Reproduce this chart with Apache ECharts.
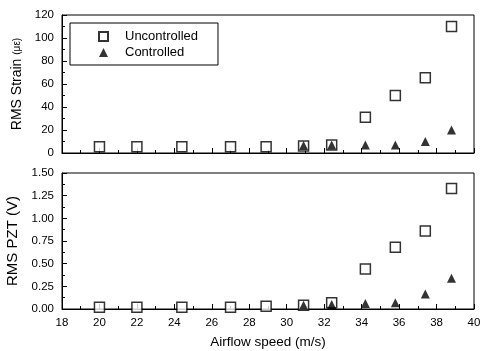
<!DOCTYPE html>
<html>
<head>
<meta charset="utf-8">
<script src="https://cdn.jsdelivr.net/npm/echarts@6/dist/echarts.min.js"></script>
<style>html,body{margin:0;padding:0;background:#fff}#c{width:481px;height:351px}</style>
</head>
<body>
<div id="c"></div>
<script>
const speedUnc = [20.0, 22.0, 24.4, 27.0, 28.9, 30.9, 32.4, 34.2, 35.8, 37.4, 38.8];
const strainUnc = [5.5, 5.5, 5.5, 5.5, 5.5, 6, 7, 31, 50, 65.5, 110];
const pztUnc = [0.02, 0.02, 0.02, 0.02, 0.03, 0.04, 0.07, 0.44, 0.68, 0.86, 1.33];
const speedCtl = [30.9, 32.4, 34.2, 35.8, 37.4, 38.8];
const strainCtl = [6.5, 7, 7, 7, 10, 20];
const pztCtl = [0.04, 0.05, 0.06, 0.07, 0.165, 0.34];
const xTicks = [18, 40, 2];
const strainTicks = [0, 120, 20];
const pztTicks = [0, 1.5, 0.25];

const zip = (a, b) => a.map((v, i) => [v, b[i]]);
const font = 'Liberation Sans, Arial, sans-serif';
const axisCommon = {
  axisLine: {show: true, onZero: false, lineStyle: {color: '#000', width: 1}},
  axisTick: {show: true, inside: true, length: 5, lineStyle: {color: '#000'}},
  minorTick: {show: true, splitNumber: 2, length: 3, lineStyle: {color: '#000'}},
  splitLine: {show: false},
  axisLabel: {color: '#000', fontFamily: font, fontSize: 11.5}
};
const uncStyle = {symbol: 'rect', symbolSize: 10, itemStyle: {color: '#fff', borderColor: '#000', borderWidth: 1.5}};
const ctlStyle = {symbol: 'triangle', symbolSize: 9, itemStyle: {color: '#000'}};

const chart = echarts.init(document.getElementById('c'), null, {renderer: 'canvas'});
chart.setOption({
  animation: false,
  backgroundColor: '#fff',
  grid: [
    {left: 62, right: 7, top: 15, height: 138, show: true, borderColor: '#000', borderWidth: 1, containLabel: false, outerBoundsMode: 'none'},
    {left: 62, right: 7, top: 173, height: 136, show: true, borderColor: '#000', borderWidth: 1, containLabel: false, outerBoundsMode: 'none'}
  ],
  legend: {
    left: 70, top: 23, orient: 'vertical',
    borderColor: '#000', borderWidth: 1,
    padding: [7, 20, 6, 28], itemGap: 3, itemWidth: 9, itemHeight: 9,
    textStyle: {fontFamily: font, fontSize: 13, color: '#000', padding: [0, 0, 0, 12]},
    data: ['Uncontrolled', 'Controlled']
  },
  xAxis: [
    Object.assign({}, axisCommon, {type: 'value', gridIndex: 0, min: xTicks[0], max: xTicks[1], interval: xTicks[2],
      axisLabel: {show: false}}),
    Object.assign({}, axisCommon, {type: 'value', gridIndex: 1, min: xTicks[0], max: xTicks[1], interval: xTicks[2],
      name: 'Airflow speed (m/s)', nameLocation: 'middle', nameGap: 26,
      nameTextStyle: {fontFamily: font, fontSize: 13.5, color: '#000'}})
  ],
  yAxis: [
    Object.assign({}, axisCommon, {type: 'value', gridIndex: 0, min: strainTicks[0], max: strainTicks[1], interval: strainTicks[2],
      name: 'RMS Strain {s|(με)}', nameLocation: 'middle', nameGap: 38,
      nameTextStyle: {fontFamily: font, fontSize: 14, color: '#000', rich: {s: {fontFamily: font, fontSize: 10, color: '#000'}}}}),
    Object.assign({}, axisCommon, {type: 'value', gridIndex: 1, min: pztTicks[0], max: pztTicks[1], interval: pztTicks[2],
      name: 'RMS PZT (V)', nameLocation: 'middle', nameGap: 38,
      axisLabel: {color: '#000', fontFamily: font, fontSize: 11.5, formatter: v => v.toFixed(2)},
      nameTextStyle: {fontFamily: font, fontSize: 15, color: '#000'}})
  ],
  series: [
    Object.assign({name: 'Uncontrolled', type: 'scatter', xAxisIndex: 0, yAxisIndex: 0, data: zip(speedUnc, strainUnc)}, uncStyle),
    Object.assign({name: 'Controlled', type: 'scatter', xAxisIndex: 0, yAxisIndex: 0, data: zip(speedCtl, strainCtl)}, ctlStyle),
    Object.assign({name: 'Uncontrolled', type: 'scatter', xAxisIndex: 1, yAxisIndex: 1, data: zip(speedUnc, pztUnc)}, uncStyle),
    Object.assign({name: 'Controlled', type: 'scatter', xAxisIndex: 1, yAxisIndex: 1, data: zip(speedCtl, pztCtl)}, ctlStyle)
  ]
});
</script>
</body>
</html>
